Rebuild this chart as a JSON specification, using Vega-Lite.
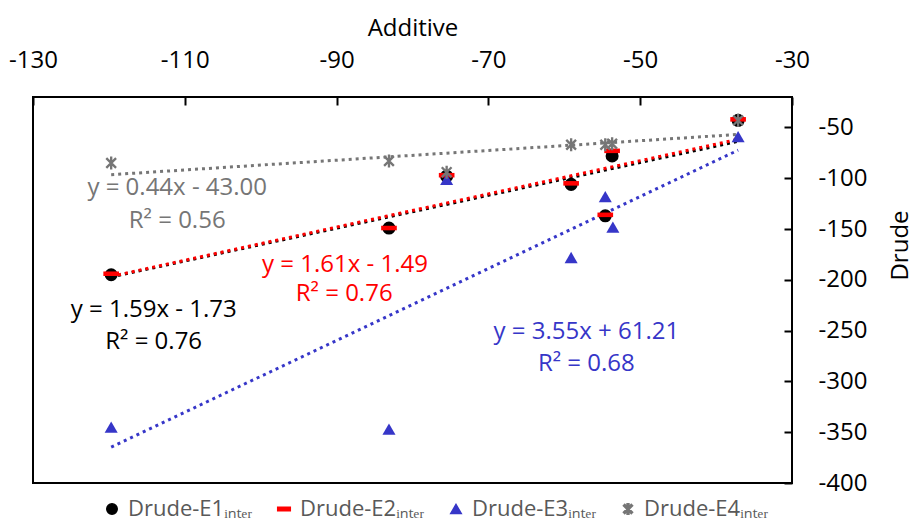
{
  "$schema": "https://vega.github.io/schema/vega-lite/v6.json",
  "width": 759,
  "height": 386,
  "autosize": {"type": "none"},
  "padding": {"left": 33, "top": 97, "right": 121, "bottom": 46},
  "background": "#ffffff",
  "config": {
    "font": "Open Sans",
    "view": {"stroke": "#000000", "strokeWidth": 2},
    "axis": {"labelFont": "Open Sans", "titleFont": "Open Sans", "labelColor": "#000000", "titleColor": "#000000", "titleFontWeight": "normal", "grid": false, "domain": false, "tickColor": "#000000", "tickWidth": 2, "labelFlush": false}
  },
  "datasets": {
    "points": [
      {"series": "Drude-E1ᵢₙₜₑᵣ", "additive": -119.7, "drude": -195},
      {"series": "Drude-E1ᵢₙₜₑᵣ", "additive": -83.1, "drude": -149},
      {"series": "Drude-E1ᵢₙₜₑᵣ", "additive": -75.5, "drude": -98},
      {"series": "Drude-E1ᵢₙₜₑᵣ", "additive": -59.1, "drude": -106},
      {"series": "Drude-E1ᵢₙₜₑᵣ", "additive": -54.6, "drude": -137},
      {"series": "Drude-E1ᵢₙₜₑᵣ", "additive": -53.7, "drude": -78},
      {"series": "Drude-E1ᵢₙₜₑᵣ", "additive": -37.1, "drude": -43},
      {"series": "Drude-E2ᵢₙₜₑᵣ", "additive": -119.7, "drude": -194},
      {"series": "Drude-E2ᵢₙₜₑᵣ", "additive": -83.1, "drude": -149},
      {"series": "Drude-E2ᵢₙₜₑᵣ", "additive": -75.5, "drude": -97},
      {"series": "Drude-E2ᵢₙₜₑᵣ", "additive": -59.1, "drude": -105},
      {"series": "Drude-E2ᵢₙₜₑᵣ", "additive": -54.6, "drude": -136},
      {"series": "Drude-E2ᵢₙₜₑᵣ", "additive": -53.7, "drude": -73},
      {"series": "Drude-E2ᵢₙₜₑᵣ", "additive": -37.1, "drude": -42},
      {"series": "Drude-E3ᵢₙₜₑᵣ", "additive": -119.7, "drude": -345},
      {"series": "Drude-E3ᵢₙₜₑᵣ", "additive": -83.1, "drude": -347},
      {"series": "Drude-E3ᵢₙₜₑᵣ", "additive": -75.5, "drude": -101},
      {"series": "Drude-E3ᵢₙₜₑᵣ", "additive": -59.1, "drude": -178},
      {"series": "Drude-E3ᵢₙₜₑᵣ", "additive": -54.6, "drude": -118},
      {"series": "Drude-E3ᵢₙₜₑᵣ", "additive": -53.6, "drude": -148},
      {"series": "Drude-E3ᵢₙₜₑᵣ", "additive": -37.1, "drude": -59},
      {"series": "Drude-E4ᵢₙₜₑᵣ", "additive": -119.7, "drude": -85},
      {"series": "Drude-E4ᵢₙₜₑᵣ", "additive": -83.1, "drude": -83},
      {"series": "Drude-E4ᵢₙₜₑᵣ", "additive": -75.5, "drude": -94},
      {"series": "Drude-E4ᵢₙₜₑᵣ", "additive": -59.1, "drude": -67},
      {"series": "Drude-E4ᵢₙₜₑᵣ", "additive": -54.6, "drude": -67},
      {"series": "Drude-E4ᵢₙₜₑᵣ", "additive": -53.7, "drude": -66},
      {"series": "Drude-E4ᵢₙₜₑᵣ", "additive": -37.1, "drude": -43}
    ],
    "labels": [
      {"series": "Drude-E4ᵢₙₜₑᵣ", "text": "y = 0.44x - 43.00", "additive": -111.0, "drude": -110.0},
      {"series": "Drude-E4ᵢₙₜₑᵣ", "text": "R² = 0.56", "additive": -111.0, "drude": -142.5},
      {"series": "Drude-E2ᵢₙₜₑᵣ", "text": "y = 1.61x - 1.49", "additive": -88.9, "drude": -185.8},
      {"series": "Drude-E2ᵢₙₜₑᵣ", "text": "R² = 0.76", "additive": -89.0, "drude": -214.4},
      {"series": "Drude-E1ᵢₙₜₑᵣ", "text": "y = 1.59x - 1.73", "additive": -114.1, "drude": -230.1},
      {"series": "Drude-E1ᵢₙₜₑᵣ", "text": "R² = 0.76", "additive": -114.1, "drude": -261.6},
      {"series": "Drude-E3ᵢₙₜₑᵣ", "text": "y = 3.55x + 61.21", "additive": -57.1, "drude": -251.8},
      {"series": "Drude-E3ᵢₙₜₑᵣ", "text": "R² = 0.68", "additive": -57.1, "drude": -283.3}
    ]
  },
  "encoding": {
    "x": {
      "field": "additive", "type": "quantitative",
      "scale": {"domain": [-130, -30], "nice": false, "zero": false},
      "axis": {"orient": "top", "title": "Additive", "values": [-130, -110, -90, -70, -50, -30], "labelExpr": "'' + datum.value", "tickSize": -8, "labelPadding": 33, "labelFontSize": 24, "titleFontSize": 24, "titlePadding": 8}
    },
    "y": {
      "field": "drude", "type": "quantitative",
      "scale": {"domain": [-400, -20], "nice": false, "zero": false},
      "axis": {"orient": "right", "title": "Drude", "values": [-400, -350, -300, -250, -200, -150, -100, -50], "labelExpr": "'' + datum.value", "tickSize": -8, "labelPadding": 34, "labelFontSize": 24, "titleFontSize": 24, "titleAngle": 270, "titleX": 120, "titleY": 148}
    },
    "color": {"field": "series", "type": "nominal",
      "scale": {"domain": ["Drude-E1ᵢₙₜₑᵣ", "Drude-E2ᵢₙₜₑᵣ", "Drude-E3ᵢₙₜₑᵣ", "Drude-E4ᵢₙₜₑᵣ"], "range": ["#000000", "#ff0000", "#3636c8", "#767676"]},
      "legend": {"title": null, "orient": "none", "direction": "horizontal", "columns": 4, "legendX": 68, "legendY": 401, "labelFontSize": 22, "labelColor": "#595959", "labelFont": "Open Sans", "symbolSize": 110, "columnPadding": 20, "labelOffset": 5, "labelLimit": 300}
    }
  },
  "layer": [
    {
      "data": {"name": "points"},
      "transform": [{"regression": "drude", "on": "additive", "groupby": ["series"]}],
      "mark": {"type": "line", "strokeWidth": 3, "strokeDash": [3, 4]},
      "encoding": {}
    },
    {
      "data": {"name": "points"},
      "mark": {"type": "point", "filled": true, "size": 170, "opacity": 1},
      "encoding": {
        "shape": {"field": "series", "type": "nominal",
          "scale": {"domain": ["Drude-E1ᵢₙₜₑᵣ", "Drude-E2ᵢₙₜₑᵣ", "Drude-E3ᵢₙₜₑᵣ", "Drude-E4ᵢₙₜₑᵣ"], "range": ["circle", "M-1.2,-0.35L1.2,-0.35L1.2,0.35L-1.2,0.35Z", "triangle-up", "M-0.18,-1L0.18,-1L0.18,1L-0.18,1ZM-0.623,-0.877L0.877,0.623L0.623,0.877L-0.877,-0.623ZM-0.877,0.623L0.623,-0.877L0.877,-0.623L-0.623,0.877Z"]}}
      }
    },
    {
      "data": {"name": "labels"},
      "mark": {"type": "text", "fontSize": 24, "font": "Open Sans", "align": "center", "baseline": "middle"},
      "encoding": {
        "text": {"field": "text"}
      }
    }
  ]
}
